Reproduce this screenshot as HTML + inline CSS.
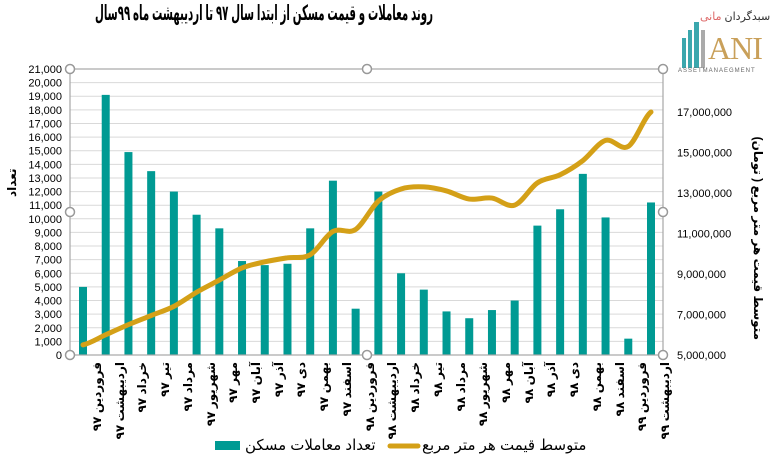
<!DOCTYPE html>
<html><head><meta charset="utf-8"><style>
body{margin:0;width:771px;height:465px;background:#fff;overflow:hidden;position:relative;font-family:"Liberation Sans","DejaVu Sans",sans-serif}
.lb{position:absolute;width:110px;height:14px;line-height:14px;font-size:12px;font-weight:bold;text-align:right;transform-origin:right top;transform:rotate(-90deg);white-space:nowrap;direction:rtl}
</style></head><body>
<svg id="s" width="771" height="465" style="position:absolute;left:0;top:0" font-family="Liberation Sans, DejaVu Sans, sans-serif"></svg>
<svg width="771" height="40" style="position:absolute;left:0;top:0"><text x="264" y="20" font-size="21" font-weight="bold" text-anchor="middle" direction="rtl" textLength="338" lengthAdjust="spacingAndGlyphs" font-family="Liberation Sans, DejaVu Sans, sans-serif">روند معاملات و قیمت مسکن از ابتدا سال ۹۷ تا اردیبهشت ماه ۹۹سال</text></svg>
<div style="position:absolute;left:0;top:170px;width:24px;height:30px;font-size:12px;font-weight:bold;transform:rotate(-90deg);text-align:center;line-height:30px">تعداد</div>
<div style="position:absolute;left:658px;top:232px;width:200px;height:16px;line-height:16px;font-size:12px;font-weight:bold;transform-origin:center;transform:rotate(90deg);text-align:center;direction:rtl;white-space:nowrap">متوسط قیمت هر متر مربع ( تومان)</div>
<div id="labs"></div>
<div style="position:absolute;left:245px;top:436px;font-size:15px;direction:rtl">تعداد معاملات مسکن</div>
<div style="position:absolute;left:422px;top:436px;font-size:15px;direction:rtl">متوسط قیمت هر متر مربع</div>
<div style="position:absolute;left:700px;top:10px;font-size:11px;color:#333;direction:rtl;white-space:nowrap">سبدگردان <span style="color:#d66">مانی</span></div>
<div style="position:absolute;left:708px;top:30px;font-size:32px;line-height:36px;color:#c9a05a;font-family:'Liberation Serif',serif;letter-spacing:-1px">ANI</div>
<div style="position:absolute;left:678px;top:68px;font-size:6px;color:#666;letter-spacing:1px;white-space:nowrap">ASSETMANAEGMENT</div>
<script>
const s=document.getElementById('s');let h='';
const X0=70,X1=663,Y0=355,Ytop=69,pu=(Y0-Ytop)/21000;
for(let i=0;i<=21;i++){const y=Y0-i*1000*pu;h+=`<line x1="${X0}" x2="${X1}" y1="${y}" y2="${y}" stroke="#d9d9d9" stroke-width="1"/>`;
h+=`<text x="62" y="${y+4}" font-size="11" text-anchor="end">${i==0?'0':(i*1000).toLocaleString('en-US')}</text>`;}
const bars=[5000,19100,14900,13500,12000,10300,9300,6900,6600,6700,9300,12800,3400,12000,6000,4800,3200,2700,3300,4000,9500,10700,13300,10100,1200,11200];
const line=[5.5,6.0,6.5,6.95,7.4,8.1,8.7,9.3,9.6,9.8,9.95,11.1,11.2,12.6,13.2,13.3,13.1,12.7,12.75,12.4,13.5,13.9,14.6,15.6,15.3,17.0];
const cx=i=>83+i*22.72;
bars.forEach((v,i)=>{const hh=v*pu;h+=`<rect x="${cx(i)-4}" y="${Y0-hh}" width="8" height="${hh}" fill="#009a93"/>`});
const ly=v=>355-(v-5)*20.25;
let d='M'+cx(0)+','+ly(line[0]);
for(let i=1;i<line.length;i++){const x0=cx(i-1),x1=cx(i),y0=ly(line[i-1]),y1=ly(line[i]);
const yp=ly(line[Math.max(0,i-2)]),yn=ly(line[Math.min(line.length-1,i+1)]);
d+=` C${x0+7.5},${y0+(y1-yp)/6} ${x1-7.5},${y1-(yn-y0)/6} ${x1},${y1}`;}
h+=`<path d="${d}" fill="none" stroke="#d4a017" stroke-width="5" stroke-linecap="round"/>`;
for(let v=5;v<=17;v+=2){h+=`<text x="677" y="${ly(v)+4}" font-size="11">${(v*1e6).toLocaleString('en-US')}</text>`;}
h+=`<rect x="${X0}" y="${Ytop}" width="${X1-X0}" height="${Y0-Ytop}" fill="none" stroke="#a6a6a6" stroke-width="1.2"/>`;
[[70,69],[367,69],[663,69],[70,212],[663,212],[70,355],[367,355],[663,355]].forEach(p=>h+=`<circle cx="${p[0]}" cy="${p[1]}" r="4.5" fill="#fff" stroke="#999" stroke-width="1.5"/>`);
h+=`<rect x="215" y="441" width="25" height="9" fill="#009a93"/><line x1="390" x2="418" y1="446" y2="446" stroke="#d4a017" stroke-width="5" stroke-linecap="round"/>`;
h+=`<rect x="682" y="38" width="4" height="30" fill="#3aa7ad"/><rect x="688" y="30" width="4" height="38" fill="#3aa7ad"/><rect x="694" y="22" width="5" height="46" fill="#3aa7ad"/><rect x="701" y="30" width="4" height="38" fill="#aaa"/>`;
s.innerHTML=h;
const names=['فروردین','اردیبهشت','خرداد','تیر','مرداد','شهریور','مهر','آبان','آذر','دی','بهمن','اسفند'];
const labs=[];for(let i=0;i<12;i++)labs.push(names[i]+' ۹۷');for(let i=0;i<12;i++)labs.push(names[i]+' ۹۸');labs.push('فروردین ۹۹','اردیبهشت ۹۹');
let lh='';labs.forEach((t,i)=>{lh+=`<div class="lb" style="left:${cx(i)-110+7}px;top:362px">${t}</div>`});
document.getElementById('labs').innerHTML=lh;
</script>
</body></html>
